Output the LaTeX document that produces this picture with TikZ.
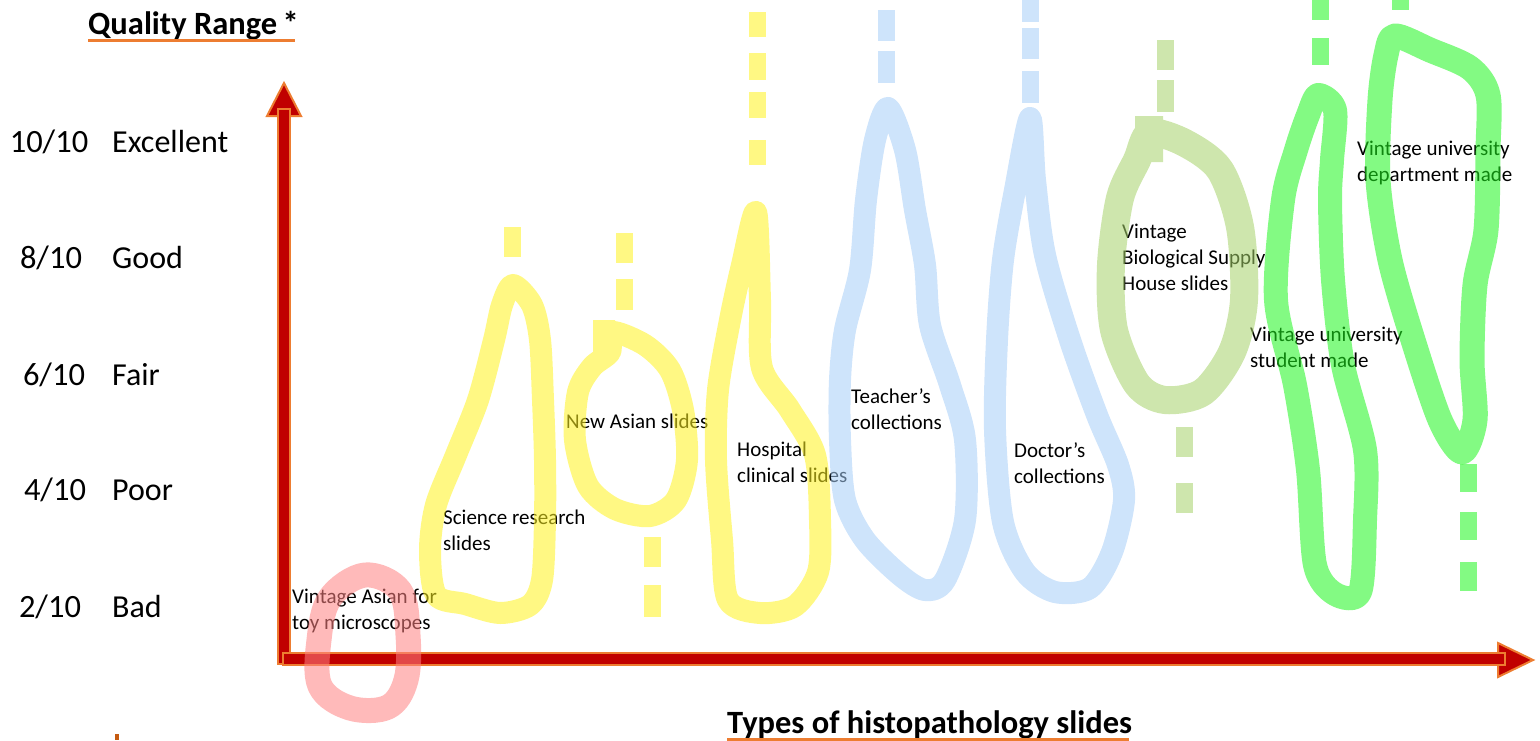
\documentclass[tikz,border=0pt]{standalone}
\usepackage{fontspec}
\setmainfont{Carlito}
\definecolor{axred}{HTML}{C00000}
\definecolor{axorange}{HTML}{ED7D31}
\definecolor{ylw}{RGB}{255,243,30}
\definecolor{pnk}{RGB}{255,130,130}
\definecolor{blu}{RGB}{165,205,247}
\definecolor{lgrn}{RGB}{165,210,105}
\definecolor{bgrn}{RGB}{30,245,30}
\definecolor{markbrown}{HTML}{C55A11}
\tikzset{
  lbl/.style={font=\fontsize{21}{26}\selectfont, align=left, anchor=base west, inner sep=0pt},
  axlbl/.style={font=\fontsize{32}{36}\selectfont, anchor=base west, inner sep=0pt},
  axnum/.style={font=\fontsize{32.5}{36}\selectfont, anchor=base, inner sep=0pt},
  ttl/.style={font=\bfseries\fontsize{32.5}{36}\selectfont, anchor=base west, inner sep=0pt},
  ring/.style={line width=22pt, opacity=0.55, line join=round, line cap=rect},
  dsh/.style={line width=17pt, opacity=0.55, line cap=butt},
  axbody/.style={fill=axred, draw=axorange, line width=2pt, line join=miter},
  uline/.style={draw=axorange, line width=3pt},
}
\begin{document}
\begin{tikzpicture}[x=1pt,y=-1pt]
\useasboundingbox (0,0) rectangle (1540,740);
% ---------- axes ----------
\path[axbody] (267,116) -- (301,116) -- (284,83) -- cycle;
\path[axbody] (278,109) rectangle (290,664);
\path[axbody] (1498,643) -- (1498,677) -- (1533,660) -- cycle;
\path[axbody] (283,653) rectangle (1505,665);
% ---------- titles ----------
\node[ttl] (qr) at (88,34) {Quality Range\,*};
\draw[uline] (88,40) -- (295,40);
\node[ttl] (types) at (727,733) {Types of histopathology slides};
\draw[uline] (727,739) -- (1129,739);
\fill[markbrown] (115,734) rectangle (119,740);
% ---------- quality scale ----------
\node[axnum] (n10) at (49,152) {10/10};
\node[axnum] (n8) at (51,268) {8/10};
\node[axnum] (n6) at (54,385) {6/10};
\node[axnum] (n4) at (55,500) {4/10};
\node[axnum] (n2) at (50,617) {2/10};
\node[axlbl] (exc) at (112,152) {Excellent};
\node[axlbl] (good) at (112,268) {Good};
\node[axlbl] (fair) at (112,385) {Fair};
\node[axlbl] (poor) at (112,500) {Poor};
\node[axlbl] (bad) at (112,617) {Bad};
% ---------- labels (anchor = baseline of last line) ----------
\node[lbl] (toy) at (292,629) {Vintage Asian for\\toy microscopes};
\node[lbl] (sci) at (443,550) {Science research\\slides};
\node[lbl] (newasian) at (566,428) {New Asian slides};
\node[lbl] (hosp) at (737,482) {Hospital\\clinical slides};
\node[lbl] (teach) at (851,429) {Teacher’s\\collections};
\node[lbl] (doc) at (1014,483) {Doctor’s\\collections};
\node[lbl] (bio) at (1122,290) {Vintage\\Biological Supply\\House slides};
\node[lbl] (stud) at (1250,367) {Vintage university\\student made};
\node[lbl] (dept) at (1357,181) {Vintage university\\department made};
% ---------- pink ----------
\draw[ring, pnk, line width=25pt] plot[smooth cycle, tension=0.6] coordinates
  {(365,575) (400,591) (408,635) (406,680) (388,707) (350,708) (320,686) (319,640) (330,598)};
% ---------- yellow: science ----------
\draw[dsh, ylw] (512,227) -- (512,257);
\draw[ring, ylw] plot[smooth cycle, tension=0.5] coordinates
  {(513,285) (532,305) (540,340) (543,400) (545,460) (545,520) (542,580) (530,605) (500,613) (465,604) (436,595) (430,550) (436,505) (456,455) (478,400) (494,340) (502,305)};
% ---------- yellow: new asian ----------
\draw[dsh, ylw] (624,233) -- (624,263);
\draw[dsh, ylw] (624,279) -- (624,310);
\draw[ring, ylw] plot[smooth cycle, tension=0.5] coordinates
  {(612,332) (645,345) (670,370) (683,410) (687,460) (676,500) (650,516) (615,509) (588,486) (575,440) (578,392) (592,367) (610,352)}
  (604,331) -- (604,341);
\draw[dsh, ylw] (652,537) -- (652,567);
\draw[dsh, ylw] (652,585) -- (652,617);
% ---------- yellow: hospital ----------
\draw[dsh, ylw] (757,12) -- (757,37);
\draw[dsh, ylw] (757,53) -- (757,80);
\draw[dsh, ylw] (757,92) -- (757,118);
\draw[dsh, ylw] (757,140) -- (757,165);
\draw[ring, ylw] plot[smooth cycle, tension=0.5] coordinates
  {(756,212) (760,300) (762,368) (790,410) (815,455) (820,520) (818,572) (795,606) (760,613) (728,600) (722,540) (716,460) (718,390) (730,320) (742,265)};
% ---------- blue: teacher ----------
\draw[dsh, blu] (886,10) -- (886,41);
\draw[dsh, blu] (886,51) -- (886,83);
\draw[ring, blu] plot[smooth cycle, tension=0.5] coordinates
  {(888,108) (905,150) (915,210) (925,265) (930,325) (950,385) (965,440) (965,520) (945,580) (925,590) (900,575) (865,540) (845,500) (840,440) (840,380) (845,330) (860,270) (866,200) (875,140)};
% ---------- blue: doctor ----------
\draw[dsh, blu] (1030,0) -- (1030,22);
\draw[dsh, blu] (1030,28) -- (1030,59);
\draw[dsh, blu] (1030,71) -- (1030,103);
\draw[ring, blu] plot[smooth cycle, tension=0.5] coordinates
  {(1030,118) (1035,180) (1045,255) (1070,340) (1097,415) (1118,465) (1124,500) (1112,552) (1090,588) (1055,592) (1025,572) (1003,522) (995,430) (997,340) (1003,260) (1015,190)};
% ---------- light green: biological supply ----------
\draw[dsh, lgrn] (1165,40) -- (1165,70);
\draw[dsh, lgrn] (1165,80) -- (1165,112);
\draw[ring, lgrn, line width=28pt] plot[smooth cycle, tension=0.5] coordinates
  {(1150,133) (1185,143) (1220,170) (1240,227) (1244,300) (1232,352) (1203,392) (1165,400) (1137,384) (1114,330) (1111,265) (1120,198) (1137,160)}
  (1149,130) -- (1149,148);
\draw[dsh, lgrn] (1184,427) -- (1184,457);
\draw[dsh, lgrn] (1184,483) -- (1184,513);
% ---------- bright green: student ----------
\draw[dsh, bgrn] (1320,0) -- (1320,20);
\draw[dsh, bgrn] (1320,38) -- (1320,65);
\draw[ring, bgrn, line width=24pt] plot[smooth cycle, tension=0.5] coordinates
  {(1318,95) (1335,110) (1332,160) (1330,200) (1333,280) (1343,365) (1365,450) (1365,520) (1360,592) (1335,594) (1315,565) (1308,470) (1295,385) (1276,300) (1283,200) (1296,150) (1308,115)};
% ---------- bright green: department ----------
\draw[dsh, bgrn] (1400,0) -- (1400,10);
\draw[ring, bgrn, line width=25pt] plot[smooth cycle, tension=0.5] coordinates
  {(1395,36) (1430,50) (1470,68) (1488,95) (1488,150) (1486,230) (1475,285) (1472,360) (1475,420) (1462,452) (1440,420) (1413,340) (1390,260) (1378,180) (1380,100) (1386,55)};
\draw[dsh, bgrn] (1468,464) -- (1468,492);
\draw[dsh, bgrn] (1468,512) -- (1468,540);
\draw[dsh, bgrn] (1468,562) -- (1468,591);
\end{tikzpicture}
\end{document}
